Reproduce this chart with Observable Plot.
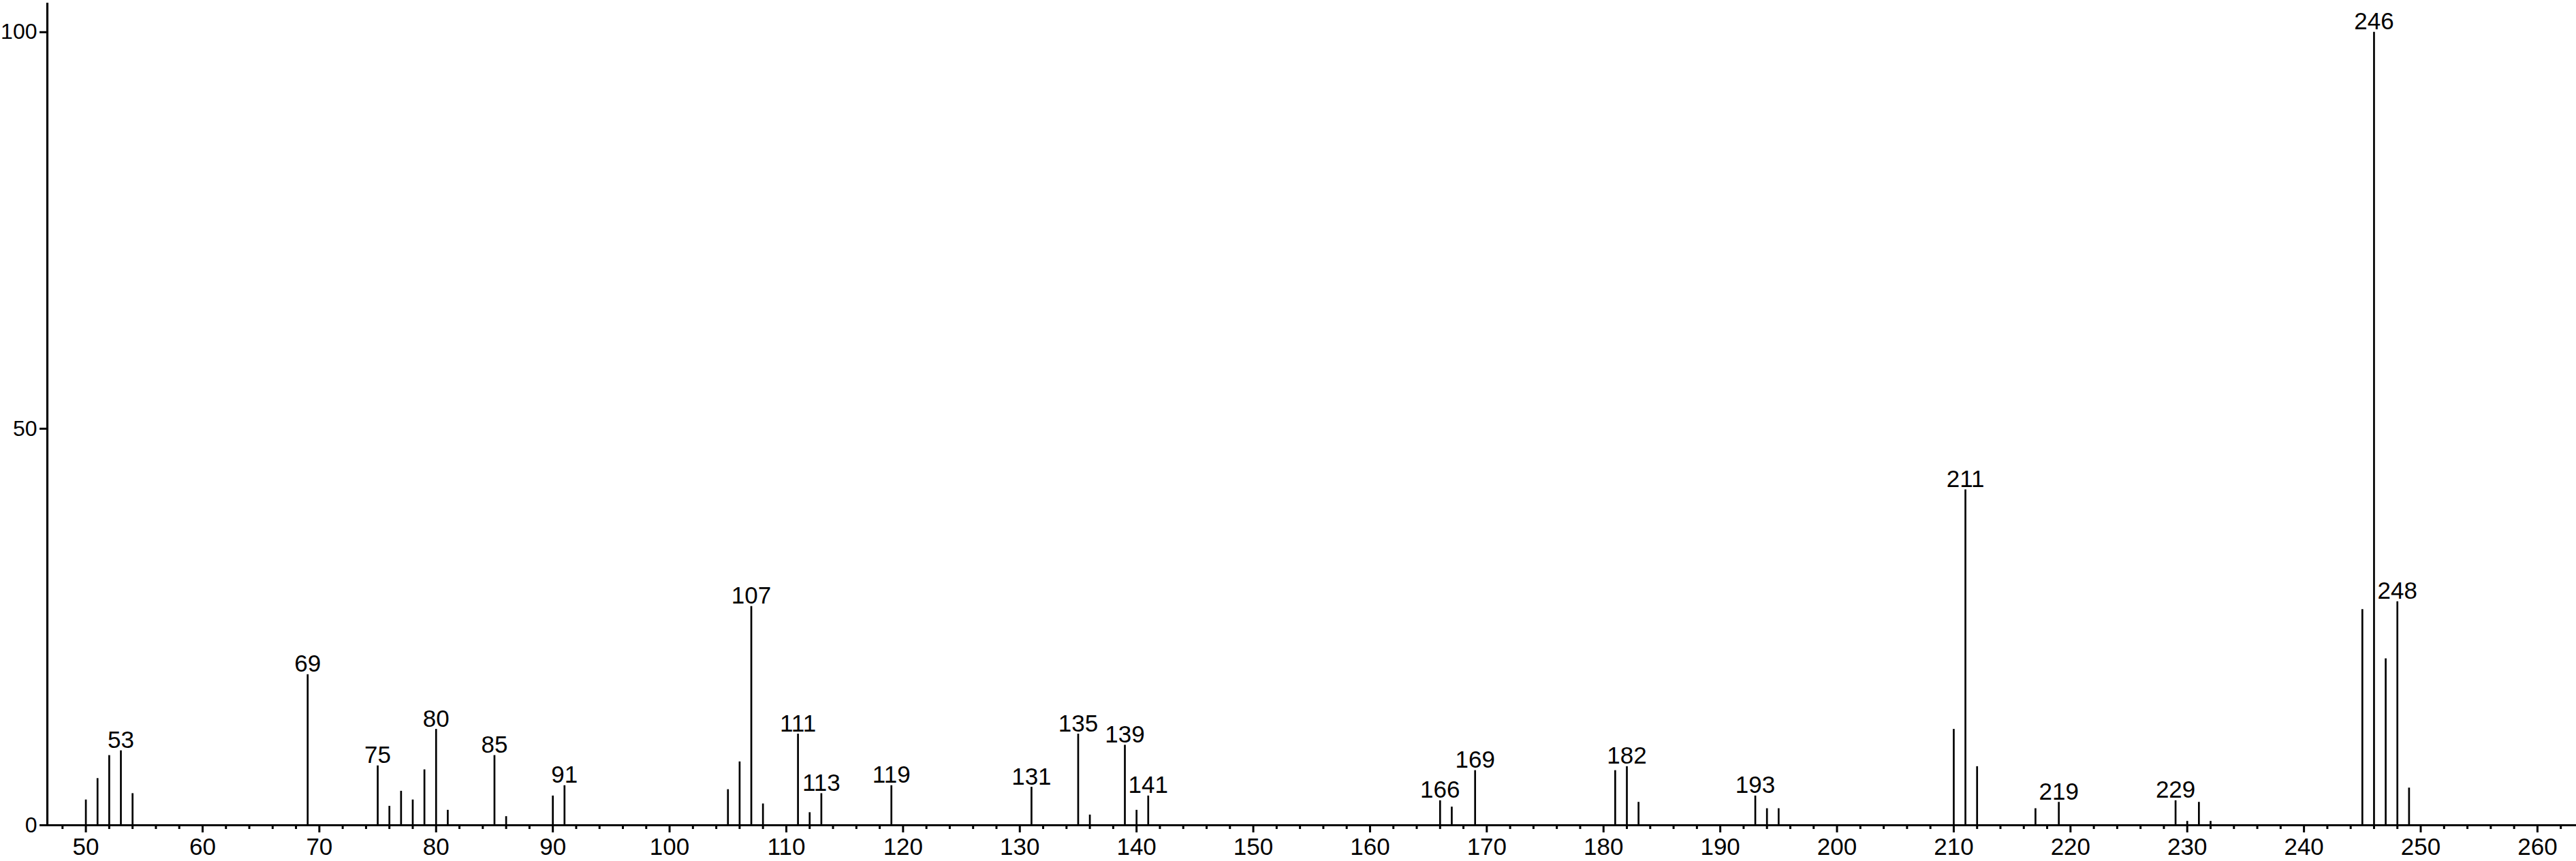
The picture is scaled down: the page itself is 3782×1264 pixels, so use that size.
<!DOCTYPE html>
<html>
<head>
<meta charset="utf-8">
<script src="https://cdn.jsdelivr.net/npm/d3@7"></script>
<script src="https://cdn.jsdelivr.net/npm/@observablehq/plot@0.6"></script>
<style>
  html, body { margin: 0; padding: 0; background: #fff; }
  #chart { width: 3782px; height: 1264px; }
</style>
</head>
<body>
<div id="chart"></div>
<script>
// m/z values of the peaks
const mz = [50,51,52,53,54,69,75,76,77,78,79,80,81,85,86,90,91,105,106,107,108,111,112,113,119,131,135,136,139,140,141,166,167,169,181,182,183,193,194,195,210,211,212,217,219,229,230,231,232,245,246,247,248,249];
// relative intensities (%)
const intensity = [3.2,5.9,8.8,9.4,4.0,19.0,7.5,2.4,4.3,3.2,7.0,12.1,1.9,8.8,1.1,3.7,5.0,4.5,8.0,27.6,2.7,11.5,1.6,4.0,5.0,4.8,11.5,1.3,10.1,1.9,3.7,3.1,2.3,6.9,6.9,7.4,2.9,3.7,2.1,2.1,12.1,42.3,7.4,2.1,2.9,3.1,0.5,2.9,0.5,27.2,100,21.0,28.2,4.7];
// peaks that carry a label
const labeled = [53,69,75,80,85,91,107,111,113,119,131,135,139,141,166,169,182,193,211,219,229,246,248];
// axis ticks
const xMajorTicks = [50,60,70,80,90,100,110,120,130,140,150,160,170,180,190,200,210,220,230,240,250,260];
const xMinorTicks = d3.range(48, 264, 2).filter(v => v % 10 !== 0);
const yTicks = [0, 50, 100];

const peaks = mz.map((m, i) => ({mz: m, int: intensity[i]}));
const labelData = peaks.filter(d => labeled.includes(d.mz));

const xDomain = [46.7, 263.33];
const yDomain = [0, 103.5];

const chart = Plot.plot({
  width: 3782,
  height: 1264,
  marginLeft: 69,
  marginRight: 0,
  marginTop: 6,
  marginBottom: 53,
  style: {fontFamily: "'Liberation Sans', Arial, Helvetica, sans-serif", fontSize: "35px", background: "#fff", color: "#000"},
  x: {domain: xDomain},
  y: {domain: yDomain},
  marks: [
    Plot.ruleX(peaks, {x: "mz", y1: 0, y2: "int", stroke: "#000", strokeWidth: 2.7}),
    Plot.text(labelData, {x: "mz", y: "int", text: d => String(d.mz), lineAnchor: "bottom", dy: -4, fontSize: 35, fill: "#000"}),
    Plot.axisX({ticks: xMinorTicks, tickSize: 6, text: null, label: null, strokeWidth: 3}),
    Plot.axisX({ticks: xMajorTicks, tickSize: 11, tickPadding: 8, strokeWidth: 3, fontSize: 35, label: null, tickFormat: d => String(d)}),
    Plot.axisY({ticks: yTicks, tickSize: 11, tickPadding: 4, strokeWidth: 3, fontSize: 32, label: null, tickFormat: d => String(d)}),
    Plot.ruleY([0], {stroke: "#000", strokeWidth: 3.2}),
    Plot.ruleX([xDomain[0]], {stroke: "#000", strokeWidth: 3.2, insetTop: -2})
  ]
});
document.getElementById("chart").appendChild(chart);
</script>
</body>
</html>
